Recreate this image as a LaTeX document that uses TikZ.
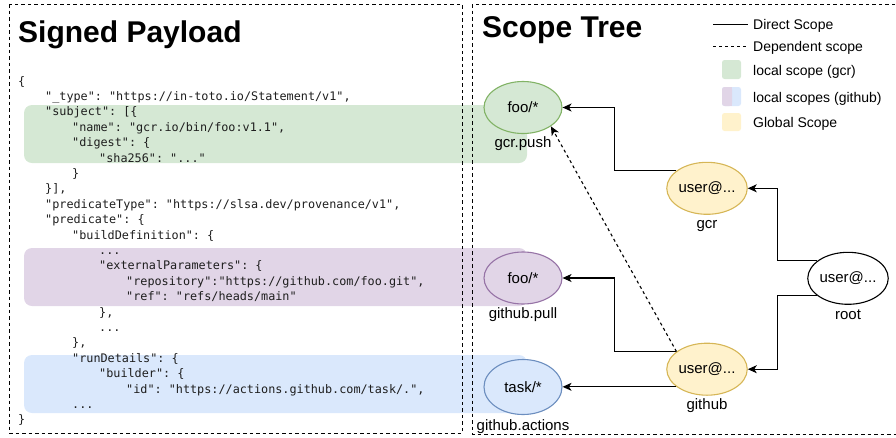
\documentclass[tikz,border=0pt]{standalone}
\usepackage{fontspec}
\setmainfont{Liberation Sans}
\newfontfamily\codefont{DejaVu Sans Mono}
\usetikzlibrary{arrows.meta,calc,shapes.geometric}
\definecolor{gfill}{HTML}{D5E8D4}
\definecolor{gstroke}{HTML}{82B366}
\definecolor{pfill}{HTML}{E1D5E7}
\definecolor{pstroke}{HTML}{9673A6}
\definecolor{bfill}{HTML}{DAE8FC}
\definecolor{bstroke}{HTML}{6C8EBF}
\definecolor{yfill}{HTML}{FFF2CC}
\definecolor{ystroke}{HTML}{D6B656}
\definecolor{codecol}{HTML}{1E1E1E}
\begin{document}
\begin{tikzpicture}[x=1pt,y=-1pt,
  codeline/.style={anchor=base west, inner sep=0, text=codecol,
    font=\codefont\fontsize{11.8}{13}\selectfont\frenchspacing},
  scopebox/.style={draw, line width=1pt, dash pattern=on 3.5pt off 3pt},
  title/.style={anchor=base west, inner sep=0, font=\bfseries\fontsize{30}{36}\selectfont},
  ell/.style={ellipse, minimum width=78pt, minimum height=52pt, inner sep=0,
    line width=1.1pt, font=\fontsize{15}{18}\selectfont},
  lbl/.style={anchor=base, inner sep=0, font=\fontsize{15}{18}\selectfont},
  legtxt/.style={anchor=base west, inner sep=0, font=\fontsize{14}{17}\selectfont},
  conn/.style={line width=1.1pt, -{Stealth[length=9pt,width=8pt,inset=2.5pt]}},
  dconn/.style={conn, dash pattern=on 3pt off 3pt},
]
\useasboundingbox (0,0) rectangle (896,437);

% highlight bands
\fill[gfill, rounded corners=8pt] (24,105) rectangle (527,163);
\fill[pfill, rounded corners=8pt] (24,248) rectangle (527,306);
\fill[bfill, rounded corners=8pt] (24,355) rectangle (527,413);

% boxes
\draw[scopebox] (9,4) rectangle (462,433);
\draw[scopebox] (472,4) rectangle (897,434);

% titles
\node[title] (t1) at (18,42) {Signed Payload};
\node[title] (t2) at (482,37) {Scope Tree};

% code
\node[codeline] (c0)  at (18,85)    {\{};
\node[codeline] (c1)  at (45,100.4) {"\_type": "https://in-toto.io/Statement/v1",};
\node[codeline] (c2)  at (45,115.8) {"subject": [\{};
\node[codeline] (c3)  at (72,131.2) {"name": "gcr.io/bin/foo:v1.1",};
\node[codeline] (c4)  at (72,146.6) {"digest": \{};
\node[codeline] (c5)  at (99,162)   {"sha256": "..."};
\node[codeline] (c6)  at (72,177.4) {\}};
\node[codeline] (c7)  at (45,192.8) {\}],};
\node[codeline] (c8)  at (45,208.2) {"predicateType": "https://slsa.dev/provenance/v1",};
\node[codeline] (c9)  at (45,223.6) {"predicate": \{};
\node[codeline] (c10) at (72,239)   {"buildDefinition": \{};
\node[codeline] (c11) at (99,254.4) {...};
\node[codeline] (c12) at (99,269.8) {"externalParameters": \{};
\node[codeline] (c13) at (126,285.2) {"repository":"https://github.com/foo.git",};
\node[codeline] (c14) at (126,300.6) {"ref": "refs/heads/main"};
\node[codeline] (c15) at (99,316)   {\},};
\node[codeline] (c16) at (99,331.4) {...};
\node[codeline] (c17) at (72,346.8) {\},};
\node[codeline] (c18) at (72,362.2) {"runDetails": \{};
\node[codeline] (c19) at (99,377.6) {"builder": \{};
\node[codeline] (c20) at (126,393)  {"id": "https://actions.github.com/task/.",};
\node[codeline] (c21) at (72,408.4) {...};
\node[codeline] (c22) at (18,423.8) {\}};

% legend
\coordinate (ls1) at (713,24);
\coordinate (le1) at (748,24);
\coordinate (ls2) at (713,46);
\coordinate (le2) at (748,46);
\draw[line width=1pt] (ls1) -- (le1);
\draw[line width=1pt, dash pattern=on 3pt off 3pt] (ls2) -- (le2);
\node[legtxt] (l1) at (753,29) {Direct Scope};
\node[legtxt] (l2) at (753,51) {Dependent scope};
\fill[gfill, rounded corners=2.5pt] (722,60) rectangle (741,79);
\fill[bfill, rounded corners=2.5pt] (722,87) rectangle (741,106);
\fill[pfill, rounded corners=2.5pt] (722,87) rectangle (732,106);
\fill[pfill] (728,87) rectangle (732,106);
\fill[yfill, rounded corners=2.5pt] (722,113) rectangle (741,131);
\node[legtxt] (l3) at (753,75.5) {local scope (gcr)};
\node[legtxt] (l4) at (753,102) {local scopes (github)};
\node[legtxt] (l5) at (753,127) {Global Scope};

% scope tree nodes
\node[ell, draw=gstroke, fill=gfill] (foo1) at (523,107.5) {foo/*};
\node[ell, draw=pstroke, fill=pfill] (foo2) at (523,278) {foo/*};
\node[ell, draw=bstroke, fill=bfill, minimum height=55pt] (task) at (523,387) {task/*};
\node[ell, draw=ystroke, fill=yfill] (gcr) at (707,188.3) {user@...};
\node[ell, draw=ystroke, fill=yfill] (gh) at (707,369.2) {user@...};
\node[ell, draw=black, fill=white] (root) at (848,278.3) {user@...};

\node[lbl] (foo1l) at (523,147) {gcr.push};
\node[lbl] (foo2l) at (523,318) {github.pull};
\node[lbl] (taskl) at (523,430) {github.actions};
\node[lbl] (gcrl) at (707,228.5) {gcr};
\node[lbl] (ghl) at (707,409) {github};
\node[lbl] (rootl) at (848,319) {root};

% connectors
\coordinate (jl) at (614.3,0);
\coordinate (jr) at (777.3,0);
\draw[conn] (gcr.150) -- (gcr.150 -| jl) -- (jl |- foo1.east) -- (foo1.east);
\draw[conn] (gh.150) -- (gh.150 -| jl) -- (jl |- foo2.east) -- (foo2.east);
\draw[conn] (gh.210) -- (gh.210 -| task.east);
\draw[conn] (root.150) -- (root.150 -| jr) -- (jr |- gcr.east) -- (gcr.east);
\draw[conn] (root.210) -- (root.210 -| jr) -- (jr |- gh.east) -- (gh.east);
\draw[dconn] (gh.150) -- (foo1.-34);
\end{tikzpicture}
\end{document}
